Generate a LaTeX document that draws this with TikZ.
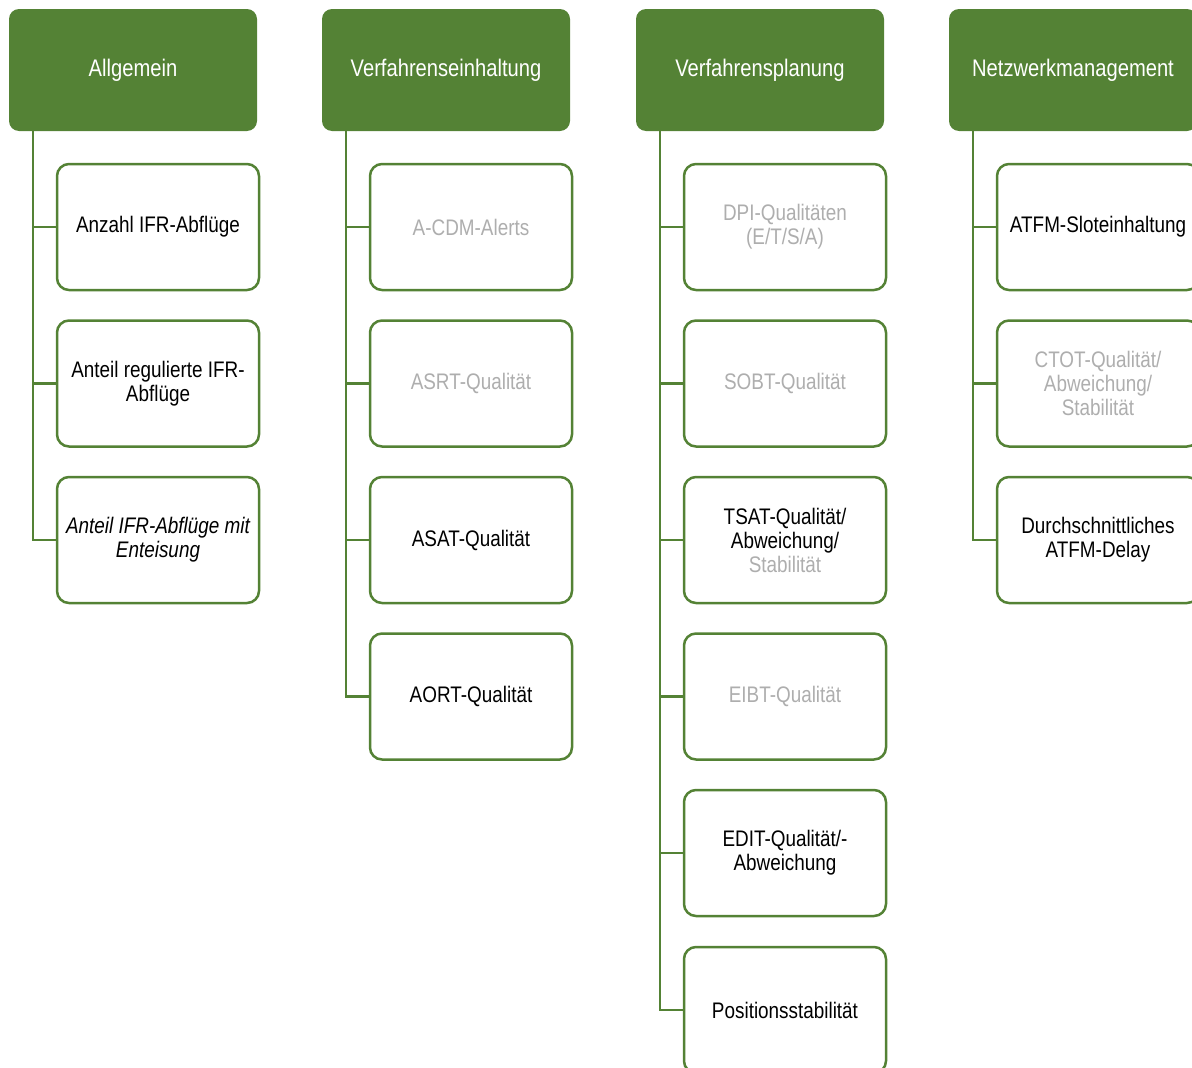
\documentclass[tikz,border=0pt]{standalone}
\usepackage{fontspec}
\setmainfont{Liberation Sans}[FakeStretch=0.84]
\definecolor{hgreen}{HTML}{548235}
\definecolor{lgray}{HTML}{AEAEAE}
\tikzset{
  x=1pt, y=-1pt,
  header/.style={fill=hgreen, draw=none, rounded corners=10pt, minimum width=248pt, minimum height=122pt, text=white, font=\fontsize{24}{26}\selectfont, inner sep=0pt},
  item/.style={draw=hgreen, line width=2.5pt, fill=white, rounded corners=12pt, minimum width=202pt, minimum height=126pt, align=center, font=\fontsize{22.5}{24}\selectfont, inner sep=0pt},
  faded/.style={text=lgray},
  conn/.style={draw=hgreen, line width=2.5pt}
}
\begin{document}
\begin{tikzpicture}
\useasboundingbox (0,0) rectangle (1192,1068);
% headers
\node[header] (h1) at (133,70) {Allgemein};
\node[header] (h2) at (446,70) {Verfahrenseinhaltung};
\node[header] (h3) at (760,70) {Verfahrensplanung};
\node[header] (h4) at (1073,70) {Netzwerkmanagement};
% column 1
\node[item] (a1) at (158,227) {Anzahl IFR-Abflüge};
\node[item] (a2) at (158,383.5) {Anteil regulierte IFR-\\Abflüge};
\node[item] (a3) at (158,540) {\itshape Anteil IFR-Abflüge mit\\\itshape Enteisung};
% column 2
\node[item, faded] (b1) at (471,227) {A-CDM-Alerts};
\node[item, faded] (b2) at (471,383.5) {ASRT-Qualität};
\node[item] (b3) at (471,540) {ASAT-Qualität};
\node[item] (b4) at (471,696.5) {AORT-Qualität};
% column 3
\node[item, faded] (c1) at (785,227) {DPI-Qualitäten\\(E/T/S/A)};
\node[item, faded] (c2) at (785,383.5) {SOBT-Qualität};
\node[item] (c3) at (785,540) {TSAT-Qualität/\\Abweichung/\\\textcolor{lgray}{Stabilität}};
\node[item, faded] (c4) at (785,696.5) {EIBT-Qualität};
\node[item] (c5) at (785,853) {EDIT-Qualität/-\\Abweichung};
\node[item] (c6) at (785,1010) {Positionsstabilität};
% column 4
\node[item] (d1) at (1098,227) {ATFM-Sloteinhaltung};
\node[item, faded] (d2) at (1098,383.5) {CTOT-Qualität/\\Abweichung/\\Stabilität};
\node[item] (d3) at (1098,540) {Durchschnittliches\\ATFM-Delay};
% connectors
\draw[conn] ([xshift=24pt]h1.south west) |- (a3.west);
\draw[conn] (a1.west) -- ++(-24,0);
\draw[conn] (a2.west) -- ++(-24,0);
\draw[conn] ([xshift=24pt]h2.south west) |- (b4.west);
\draw[conn] (b1.west) -- ++(-24,0);
\draw[conn] (b2.west) -- ++(-24,0);
\draw[conn] (b3.west) -- ++(-24,0);
\draw[conn] ([xshift=24pt]h3.south west) |- (c6.west);
\draw[conn] (c1.west) -- ++(-24,0);
\draw[conn] (c2.west) -- ++(-24,0);
\draw[conn] (c3.west) -- ++(-24,0);
\draw[conn] (c4.west) -- ++(-24,0);
\draw[conn] (c5.west) -- ++(-24,0);
\draw[conn] ([xshift=24pt]h4.south west) |- (d3.west);
\draw[conn] (d1.west) -- ++(-24,0);
\draw[conn] (d2.west) -- ++(-24,0);
\end{tikzpicture}
\end{document}
